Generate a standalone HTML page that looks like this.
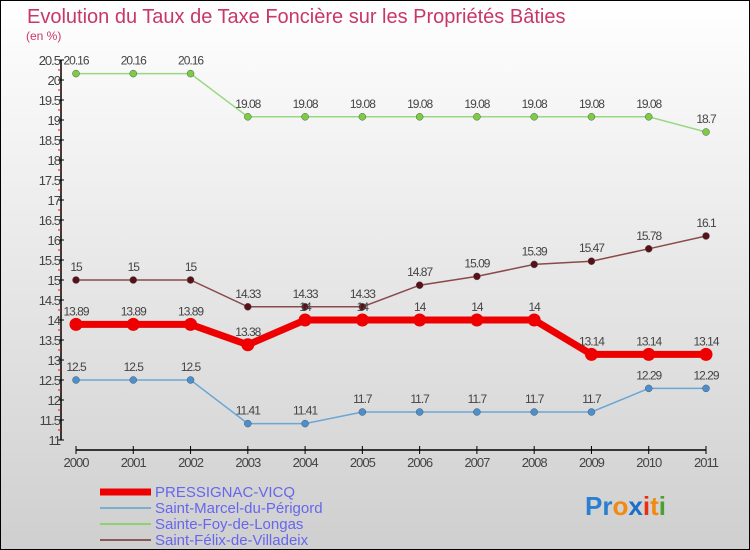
<!DOCTYPE html>
<html><head><meta charset="utf-8"><style>
body{margin:0}
#c{position:relative;width:750px;height:550px;overflow:hidden;font-family:"Liberation Sans",sans-serif}
</style></head><body>
<div id="c">
<svg id="s" width="750" height="550" xmlns="http://www.w3.org/2000/svg">
<defs><linearGradient id="bg" x1="0" y1="0" x2="0" y2="1"><stop offset="0" stop-color="#ffffff"/><stop offset="1" stop-color="#cfcfcf"/></linearGradient></defs>
<rect x="0.5" y="0.5" width="749" height="549" fill="url(#bg)" stroke="#000"/>
<text x="27" y="23" font-size="20" fill="#c8366a">Evolution du Taux de Taxe Foncière sur les Propriétés Bâties</text>
<text x="26" y="40" font-size="12" fill="#c8366a">(en %)</text>
<g id="axes"></g><g id="series"></g>
<g>
<line x1="100" y1="492" x2="151" y2="492" stroke="#ee0000" stroke-width="7"/>
<text x="155" y="497" font-size="15" fill="#6666ee">PRESSIGNAC-VICQ</text>
<line x1="100" y1="508" x2="151" y2="508" stroke="#7aaed0" stroke-width="2"/>
<text x="155" y="513" font-size="15" fill="#6666ee">Saint-Marcel-du-Périgord</text>
<line x1="100" y1="524" x2="151" y2="524" stroke="#90d070" stroke-width="2"/>
<text x="155" y="529" font-size="15" fill="#6666ee">Sainte-Foy-de-Longas</text>
<line x1="100" y1="540" x2="151" y2="540" stroke="#8a5a5a" stroke-width="2"/>
<text x="155" y="545" font-size="15" fill="#6666ee">Saint-Félix-de-Villadeix</text>
</g>
<text x="585" y="515" font-size="26" font-weight="bold"><tspan fill="#2a7fd0">Pr</tspan><tspan fill="#f08a10">o</tspan><tspan fill="#1a70c8">x</tspan><tspan fill="#e83010">i</tspan><tspan fill="#f08a10">t</tspan><tspan fill="#4aa030">i</tspan></text>
</svg>
</div>
<script>
const years=["2000","2001","2002","2003","2004","2005","2006","2007","2008","2009","2010","2011"];
const yTicks=[11,11.5,12,12.5,13,13.5,14,14.5,15,15.5,16,16.5,17,17.5,18,18.5,19,19.5,20,20.5];
const pressignac=[13.89,13.89,13.89,13.38,14,14,14,14,14,13.14,13.14,13.14];
const saintMarcel=[12.5,12.5,12.5,11.41,11.41,11.7,11.7,11.7,11.7,11.7,12.29,12.29];
const sainteFoy=[20.16,20.16,20.16,19.08,19.08,19.08,19.08,19.08,19.08,19.08,19.08,18.7];
const saintFelix=[15,15,15,14.33,14.33,14.33,14.87,15.09,15.39,15.47,15.78,16.1];
const NS="http://www.w3.org/2000/svg";
const X=i=>76+i*(630/11);
const Y=v=>440-(v-11)*40;
function mk(t,a,p){const e=document.createElementNS(NS,t);for(const k in a)e.setAttribute(k,a[k]);p.appendChild(e);return e;}
const ax=document.getElementById('axes');
let l=mk('line',{x1:61,y1:Y(20.5),x2:61,y2:Y(11),stroke:'#000','stroke-width':1.5},ax);


yTicks.forEach(v=>{
 let t=mk('line',{x1:58,y1:Y(v),x2:64,y2:Y(v),stroke:'#000'},ax);
 
 
 if(v<20.5){let m=mk('line',{x1:58,y1:Y(v+0.25),x2:61,y2:Y(v+0.25),stroke:'#e00'},ax);
 
 }
 let tx=mk('text',{x:60,y:Y(v)+5,'font-size':13,fill:'#444','text-anchor':'end','letter-spacing':'-1'},ax);
 tx.textContent=String(v);
 
 
});
l=mk('line',{x1:X(0),y1:450,x2:X(11),y2:450,stroke:'#000','stroke-width':1.5},ax);


years.forEach((y,i)=>{
 let t=mk('line',{x1:X(i),y1:446,x2:X(i),y2:454,stroke:'#000'},ax);
 
 
 let tx=mk('text',{x:X(i),y:467,'font-size':13,fill:'#444','text-anchor':'middle','letter-spacing':'-1'},ax);
 tx.textContent=y;
 
 
});
const sg=document.getElementById('series');
function series(data,name,col,dot,w,r){
 const g=mk('g',{},sg);
 
 
 let p=mk('polyline',{points:data.map((v,i)=>X(i)+','+Y(v)).join(' '),fill:'none',stroke:col,'stroke-width':w},g);
 
 
 data.forEach((v,i)=>{
  let c=mk('circle',{cx:X(i),cy:Y(v),r:r,fill:dot,stroke:w>3?col:'#555','stroke-width':w>3?0:0.5},g);
  
  
  let t=mk('text',{x:X(i),y:Y(v)-9,'font-size':12,fill:'#444','text-anchor':'middle','letter-spacing':'-1'},g);
  t.textContent=String(v);
  
  
 });
}
series(sainteFoy,'sainte-foy','#98d880','#7ccc44',1.5,3.5);
series(saintFelix,'saint-felix','#8a4a4a','#5a1018',1.5,3.5);
series(saintMarcel,'saint-marcel','#6aa6d6','#4a90d0',1.5,3.5);
series(pressignac,'pressignac','#ee0000','#ee0000',7,6.5);
</script>
</body></html>
